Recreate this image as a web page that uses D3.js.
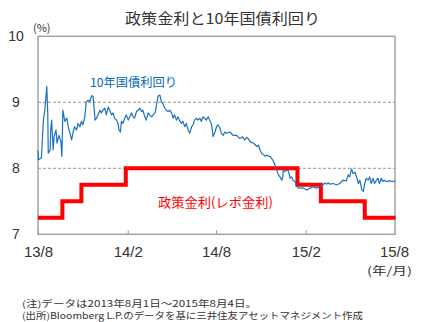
<!DOCTYPE html>
<html><head><meta charset="utf-8">
<script src="https://cdn.jsdelivr.net/npm/d3@7"></script>
<style>
html,body{margin:0;padding:0;background:#fff;}
svg{display:block;font-family:"Noto Sans CJK JP","Noto Sans",sans-serif;}
</style></head>
<body>
<svg id="c" width="423" height="322"></svg>
<script>
// ---- data ----
const bondDates = ["2013-08-01","2013-08-02","2013-08-08","2013-08-12","2013-08-15","2013-08-19","2013-08-21","2013-08-22","2013-08-26","2013-08-27","2013-08-29","2013-09-01","2013-09-03","2013-09-07","2013-09-09","2013-09-13","2013-09-17","2013-09-19","2013-09-21","2013-09-25","2013-09-29","2013-10-02","2013-10-05","2013-10-09","2013-10-12","2013-10-15","2013-10-19","2013-10-22","2013-10-26","2013-10-29","2013-11-01","2013-11-05","2013-11-08","2013-11-12","2013-11-15","2013-11-19","2013-11-22","2013-11-26","2013-11-29","2013-12-02","2013-12-06","2013-12-09","2013-12-12","2013-12-16","2013-12-19","2013-12-23","2013-12-26","2013-12-30","2014-01-02","2014-01-05","2014-01-09","2014-01-12","2014-01-14","2014-01-17","2014-01-19","2014-01-22","2014-01-26","2014-01-29","2014-02-02","2014-02-05","2014-02-09","2014-02-12","2014-02-15","2014-02-19","2014-02-22","2014-02-26","2014-03-01","2014-03-04","2014-03-08","2014-03-11","2014-03-15","2014-03-18","2014-03-22","2014-03-25","2014-03-29","2014-04-01","2014-04-04","2014-04-08","2014-04-11","2014-04-14","2014-04-18","2014-04-21","2014-04-25","2014-04-28","2014-05-02","2014-05-05","2014-05-08","2014-05-12","2014-05-15","2014-05-18","2014-05-22","2014-05-25","2014-05-29","2014-06-01","2014-06-05","2014-06-08","2014-06-12","2014-06-15","2014-06-18","2014-06-22","2014-06-25","2014-06-29","2014-07-02","2014-07-05","2014-07-09","2014-07-12","2014-07-16","2014-07-19","2014-07-23","2014-07-26","2014-07-30","2014-08-02","2014-08-05","2014-08-09","2014-08-12","2014-08-16","2014-08-19","2014-08-23","2014-08-29","2014-09-05","2014-09-12","2014-09-19","2014-09-24","2014-09-29","2014-10-03","2014-10-06","2014-10-10","2014-10-17","2014-10-24","2014-10-27","2014-10-30","2014-11-03","2014-11-06","2014-11-10","2014-11-13","2014-11-17","2014-11-20","2014-11-24","2014-11-27","2014-12-01","2014-12-04","2014-12-07","2014-12-10","2014-12-14","2014-12-16","2014-12-17","2014-12-20","2014-12-24","2014-12-27","2014-12-31","2015-01-03","2015-01-06","2015-01-10","2015-01-13","2015-01-17","2015-01-20","2015-01-27","2015-02-03","2015-02-10","2015-02-16","2015-02-23","2015-03-02","2015-03-09","2015-03-12","2015-03-16","2015-03-19","2015-03-22","2015-03-29","2015-04-05","2015-04-12","2015-04-18","2015-04-25","2015-04-29","2015-05-02","2015-05-06","2015-05-09","2015-05-13","2015-05-16","2015-05-20","2015-05-23","2015-05-27","2015-05-30","2015-06-02","2015-06-05","2015-06-09","2015-06-12","2015-06-15","2015-06-19","2015-06-22","2015-06-26","2015-06-29","2015-07-02","2015-07-06","2015-07-09","2015-07-12","2015-07-16","2015-07-23","2015-07-30","2015-08-04"];
const bondYield = [8.27,8.13,8.16,8.73,8.88,9.24,8.84,8.23,8.28,8.58,8.73,8.28,8.48,8.58,8.38,8.50,8.40,8.18,8.88,8.71,8.76,8.63,8.55,8.43,8.55,8.63,8.58,8.68,8.63,8.71,8.66,8.78,9.01,9.03,9.01,9.10,9.09,8.73,8.76,8.81,8.88,8.84,8.88,8.91,8.81,8.93,8.88,8.81,8.84,8.76,8.73,8.68,8.58,8.55,8.71,8.68,8.76,8.81,8.73,8.78,8.84,8.78,8.76,8.86,8.88,8.91,8.86,8.88,8.78,8.73,8.84,8.81,8.78,8.81,8.84,8.96,9.09,9.11,9.01,8.98,8.91,8.88,8.86,8.88,8.84,8.76,8.81,8.73,8.78,8.73,8.68,8.71,8.63,8.68,8.58,8.53,8.63,8.66,8.73,8.76,8.73,8.76,8.71,8.78,8.76,8.73,8.78,8.73,8.66,8.48,8.55,8.63,8.66,8.61,8.53,8.50,8.55,8.53,8.55,8.50,8.50,8.45,8.48,8.43,8.47,8.45,8.40,8.38,8.33,8.35,8.28,8.22,8.21,8.18,8.20,8.18,8.18,8.14,8.10,8.03,7.96,7.90,7.87,7.82,7.87,7.97,7.95,7.97,7.97,7.85,7.87,7.82,7.80,7.73,7.70,7.70,7.70,7.67,7.70,7.72,7.70,7.72,7.75,7.78,7.76,7.78,7.76,7.77,7.75,7.77,7.82,7.81,7.90,7.87,7.99,7.92,7.94,7.87,7.77,7.82,7.67,7.65,7.77,7.85,7.82,7.87,7.77,7.85,7.77,7.82,7.85,7.77,7.85,7.80,7.82,7.80,7.81,7.80,7.81];
const policyDates = ["2013-08-01","2013-09-20","2013-10-29","2014-01-28","2015-01-15","2015-03-04","2015-06-02","2015-08-04"];
const policyRate = [7.25,7.50,7.75,8.00,7.75,7.50,7.25,7.25];
const yTicks = [7,8,9,10];
const gridValues = [8,9];
const xTickDates = ["2013-08-01","2014-02-01","2014-08-01","2015-02-01","2015-08-01"];
const xTickLabels = ["13/8","14/2","14/8","15/2","15/8"];

const parse = d3.utcParse("%Y-%m-%d");
const bond = bondDates.map((d,i)=>({date:parse(d), v:bondYield[i]}));
const policy = policyDates.map((d,i)=>({date:parse(d), v:policyRate[i]}));

const L=38, R=395, T=36.3, B=234.3;
const x = d3.scaleUtc().domain([parse("2013-08-01"), parse("2015-08-03")]).range([L,R]);
const y = d3.scaleLinear().domain([7,10]).range([B,T]);

const svg = d3.select("#c");
const txt = "#333";
const numFont = "Liberation Sans, Arial, sans-serif";

// title
svg.append("text").attr("x",125).attr("y",24).attr("font-size",15).attr("fill",txt)
  .attr("textLength",195).attr("lengthAdjust","spacingAndGlyphs").text("政策金利と10年国債利回り");
svg.append("text").attr("x",33).attr("y",32).attr("font-size",11).attr("fill",txt).text("(%)");

// gridlines
svg.append("g").selectAll("line").data(gridValues).join("line")
  .attr("x1",L).attr("x2",R).attr("y1",d=>y(d)).attr("y2",d=>y(d))
  .attr("stroke","#8e9c88").attr("stroke-width",1).attr("stroke-dasharray","3,2");

// y axis labels
const yAxis = d3.axisLeft(y).tickValues(yTicks).tickSize(0).tickFormat(d3.format("d"));
const gy = svg.append("g").attr("transform",`translate(${L},0)`).call(yAxis);
gy.select(".domain").remove();
gy.selectAll("text").attr("x",-22).attr("text-anchor","middle").attr("font-size",14)
  .attr("fill",txt).attr("font-family",numFont);

// x axis
const xAxis = d3.axisBottom(x).tickValues(xTickDates.map(parse)).tickSize(-4).tickPadding(12)
  .tickFormat((d,i)=>xTickLabels[i]);
const gx = svg.append("g").attr("transform",`translate(0,${B})`).call(xAxis);
gx.select(".domain").remove();
gx.selectAll("line").attr("stroke","#999");
gx.selectAll("text").attr("font-size",15).attr("fill",txt).attr("font-family",numFont);

// frame
svg.append("rect").attr("x",L).attr("y",T).attr("width",R-L).attr("height",B-T)
  .attr("fill","none").attr("stroke","#a3a3a3").attr("stroke-width",1.5);

// policy rate
svg.append("path").datum(policy)
  .attr("d", d3.line().x(d=>x(d.date)).y(d=>y(d.v)).curve(d3.curveStepAfter))
  .attr("fill","none").attr("stroke","#ff0000").attr("stroke-width",4);

// bond yield
svg.append("path").datum(bond)
  .attr("d", d3.line().x(d=>x(d.date)).y(d=>y(d.v)))
  .attr("fill","none").attr("stroke","#1a72c2").attr("stroke-width",1.2).attr("stroke-linejoin","round");

// series labels
svg.append("text").attr("x",90).attr("y",86.5).attr("font-size",12).attr("fill","#0068b7")
  .attr("textLength",87).attr("lengthAdjust","spacingAndGlyphs").text("10年国債利回り");
svg.append("text").attr("x",158).attr("y",206.5).attr("font-size",13).attr("fill","#ff0000")
  .attr("textLength",115).attr("lengthAdjust","spacingAndGlyphs").text("政策金利(レポ金利)");

// unit
svg.append("text").attr("x",412).attr("y",275).attr("font-size",11).attr("fill",txt)
  .attr("text-anchor","end").attr("textLength",45).attr("lengthAdjust","spacingAndGlyphs").text("(年/月)");

// notes
svg.append("text").attr("x",22).attr("y",307).attr("font-size",9).attr("fill",txt)
  .attr("textLength",235).attr("lengthAdjust","spacingAndGlyphs").text("(注)データは2013年8月1日～2015年8月4日。");
svg.append("text").attr("x",22).attr("y",318.5).attr("font-size",9).attr("fill",txt)
  .attr("textLength",341).attr("lengthAdjust","spacingAndGlyphs").text("(出所)Bloomberg L.P.のデータを基に三井住友アセットマネジメント作成");
</script>
</body></html>
